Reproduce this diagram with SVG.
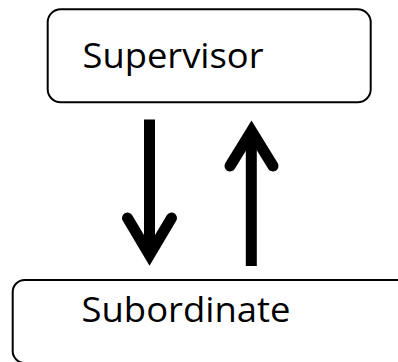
<svg xmlns="http://www.w3.org/2000/svg" width="398" height="362" viewBox="0 0 398 362">
<style>
.box{fill:#fff;stroke:#000;stroke-width:2}
.lbl{font-family:"Open Sans","Liberation Sans",sans-serif;font-size:35px;fill:#000}
.shaft{fill:none;stroke:#000;stroke-width:11;stroke-linecap:butt}
.head{fill:none;stroke:#000;stroke-width:11;stroke-linecap:round;stroke-linejoin:miter;stroke-miterlimit:4}
</style>
<rect width="398" height="362" fill="#fff"/>
<g id="supervisor">
<rect class="box" x="47.7" y="9.3" width="323" height="93" rx="13"/>
<text class="lbl" x="82.5" y="67.7" textLength="181" lengthAdjust="spacingAndGlyphs">Supervisor</text>
</g>
<g id="subordinate">
<rect class="box" x="12.7" y="280" width="397" height="83" rx="12"/>
<text class="lbl" x="81.5" y="322.3" textLength="209" lengthAdjust="spacingAndGlyphs">Subordinate</text>
</g>
<g id="connectors">
<g id="down-arrow">
<line class="shaft" x1="149.5" y1="119.5" x2="149.5" y2="255"/>
<polyline class="head" points="127.5,218 149.5,255 171.5,218"/>
</g>
<g id="up-arrow">
<line class="shaft" x1="251.3" y1="266" x2="251.3" y2="131"/>
<polyline class="head" points="230,166 251.5,131 273,166"/>
</g>
</g>
</svg>
